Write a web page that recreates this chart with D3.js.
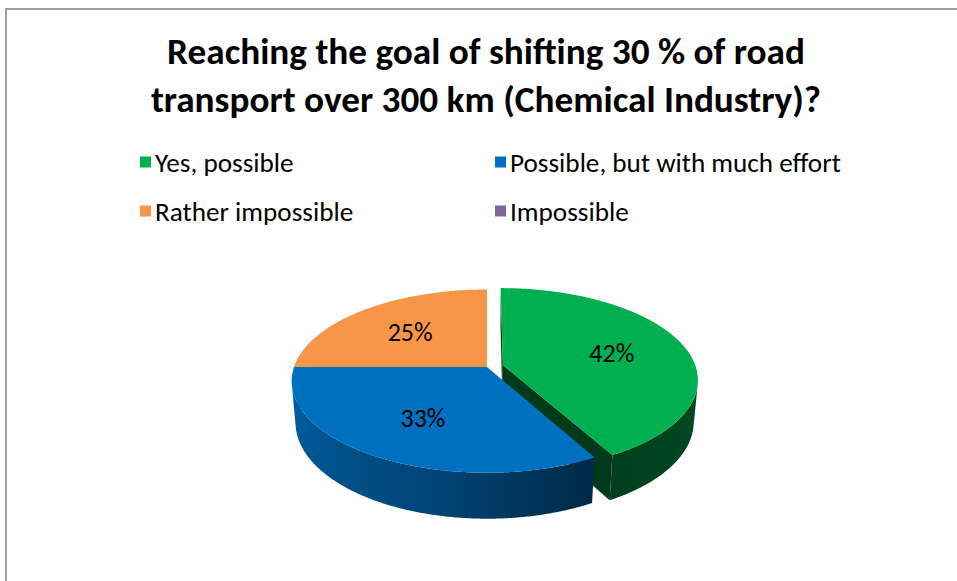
<!DOCTYPE html>
<html>
<head>
<meta charset="utf-8">
<script src="https://cdn.jsdelivr.net/npm/d3@7"></script>
<style>
  html, body { margin: 0; padding: 0; background: #fff; }
  svg { display: block; font-family: Calibri, Carlito, Lato, sans-serif; }
</style>
</head>
<body>
<div id="chart"></div>
<script>
"use strict";

/*** Data */
const titleLines = ["Reaching the goal of shifting 30 % of road",
                    "transport over 300 km (Chemical Industry)?"];
const categories = ["Yes, possible", "Possible, but with much effort", "Rather impossible", "Impossible"];
const values = [42, 33, 25, 0];
const colors = ["#00B050", "#0070C0", "#F79646", "#8064A2"];
const explodeBy = [0.085, 0, 0, 0];   // fraction of radius the slice is pulled out

/*** Sizes */
const w = 957;
const h = 581;

const svg = d3.select("#chart")
    .append("svg")
    .attr("width", w)
    .attr("height", h);

const defs = svg.append("defs");

/* chart frame, runs off the right and bottom edges */
svg.append("rect")
    .attr("x", 6).attr("y", 9)
    .attr("width", w + 20).attr("height", h + 20)
    .attr("fill", "#fff")
    .attr("stroke", "#898989")
    .attr("stroke-width", 1.6);

/* fit a text's font-size so that it is `target` px wide */
const fitSize = (sel, base, target) => base * target / sel.node().getComputedTextLength();

/*** Title */
const title = svg.append("g").attr("text-anchor", "middle").attr("font-weight", "bold").attr("fill", "#000");
const titleText = title.selectAll("text")
    .data(titleLines)
    .enter()
    .append("text")
    .attr("x", 486)
    .attr("y", (d, i) => 64 + i * 48)
    .attr("font-size", 36)
    .text(d => d);
titleText.attr("font-size", fitSize(titleText.filter((d, i) => i === 0), 36, 638));

/*** Legend */
const legendCols = [140, 495];
const legendRows = [162, 211];
const legend = svg.append("g").attr("id", "legend");
const legendItems = legend.selectAll("g")
    .data(categories)
    .enter()
    .append("g")
    .attr("transform", (d, i) => "translate(" + legendCols[i % 2] + "," + legendRows[Math.floor(i / 2)] + ")");
legendItems.append("rect")
    .attr("x", 0).attr("y", -5.5)
    .attr("width", 11).attr("height", 11)
    .attr("fill", (d, i) => colors[i]);
const legendText = legendItems.append("text")
    .attr("x", 15)
    .attr("dy", "0.36em")
    .attr("font-size", 20)
    .attr("fill", "#000")
    .text(d => d);
legendText.attr("font-size", fitSize(legendText.filter((d, i) => i === 1), 20, 331));

/*** 3D pie */
/* perspective projection of a tilted disc */
const cx = 487, cy = 367, k = 193;
const tilt = 27.6 * Math.PI / 180;
const sinA = Math.sin(tilt), cosA = Math.cos(tilt);
const dist = 5.75;        // camera distance in radius units
const thick = 0.245;      // slab thickness in radius units
const camera = [0, dist * sinA, dist * cosA];

const proj = (X, Y, Z) => {
    const v = Z * sinA - Y * cosA;
    const d = Z * cosA + Y * sinA;
    const s = dist / (dist - d);
    return [cx + k * X * s, cy + k * v * s];
};
// point on rim / inside disc, angle clockwise from 12 o'clock
const pt = (a, r, y, off) => [off[0] + r * Math.sin(a), y, off[1] - r * Math.cos(a)];
const visible = (p, n) => (camera[0] - p[0]) * n[0] + (camera[1] - p[1]) * n[1] + (camera[2] - p[2]) * n[2] > 0;
const toPath = pts => "M" + pts.map(p => proj(...p).map(v => v.toFixed(2)).join(",")).join("L") + "Z";

const shade = d3.scaleLinear()
    .domain([100, 151, 195, 265])
    .range([0.43, 0.36, 0.62, 0.88])
    .clamp(true);
const dim = (c, f) => { const o = d3.rgb(c); return d3.rgb(o.r * f, o.g * f, o.b * f).formatHex(); };

const pie = d3.pie().sort(null).value(d => d);
const arcs = pie(values).map((d, i) => {
    const mid = (d.startAngle + d.endAngle) / 2;
    const e = explodeBy[i];
    return Object.assign(d, { i: i, mid: mid, off: [e * Math.sin(mid), -e * Math.cos(mid)] });
});

const pieG = svg.append("g");
const step = Math.PI / 360;

arcs.filter(d => d.value > 0)
    .sort((a, b) => (a.off[1] - Math.cos(a.mid)) - (b.off[1] - Math.cos(b.mid)))
    .forEach(d => {
        const g = pieG.append("g");
        const a0 = d.startAngle, a1 = d.endAngle;
        const n = Math.max(2, Math.ceil((a1 - a0) / step));
        const angles = d3.range(n + 1).map(j => a0 + (a1 - a0) * j / n);

        /* radial faces */
        [[a0, a0 - Math.PI / 2], [a1, a1 + Math.PI / 2]].forEach(([a, na]) => {
            const nrm = [Math.sin(na), 0, -Math.cos(na)];
            const c0 = pt(0, 0, 0, d.off);
            if (!visible(pt(a, 0.5, 0, d.off), nrm)) return;
            g.append("path")
                .attr("d", toPath([c0, pt(a, 1, 0, d.off), pt(a, 1, -thick, d.off), pt(0, 0, -thick, d.off)]))
                .attr("fill", dim(colors[d.i], 0.33));
        });

        /* outer wall, only the part facing the camera */
        const vis = angles.filter(a => visible(pt(a, 1, 0, d.off), [Math.sin(a), 0, -Math.cos(a)]));
        if (vis.length > 1) {
            const top = vis.map(a => pt(a, 1, 0, d.off));
            const bot = vis.map(a => pt(a, 1, -thick, d.off)).reverse();
            const xs = vis.map(a => proj(...pt(a, 1, 0, d.off))[0]);
            const x1 = d3.min(xs), x2 = d3.max(xs);
            const gid = "wall" + d.i;
            defs.append("linearGradient")
                .attr("id", gid)
                .attr("gradientUnits", "userSpaceOnUse")
                .attr("x1", x1).attr("x2", x2).attr("y1", 0).attr("y2", 0)
                .selectAll("stop")
                .data(vis.map((a, j) => ({ o: (xs[j] - x1) / (x2 - x1 || 1), c: dim(colors[d.i], shade(a * 180 / Math.PI)) }))
                         .sort((p, q) => p.o - q.o))
                .enter()
                .append("stop")
                .attr("offset", s => s.o)
                .attr("stop-color", s => s.c);
            g.append("path")
                .attr("d", toPath(top.concat(bot)))
                .attr("fill", "url(#" + gid + ")");
        }

        /* top face */
        g.append("path")
            .attr("d", toPath([pt(0, 0, 0, d.off)].concat(angles.map(a => pt(a, 1, 0, d.off)))))
            .attr("fill", colors[d.i]);
    });

/*** Data labels */
const labelG = svg.append("g").attr("text-anchor", "middle").attr("fill", "#000");
const labelText = labelG.selectAll("text")
    .data(arcs.filter(d => d.value > 0))
    .enter()
    .append("text")
    .attr("x", d => proj(...pt(d.mid, 0.6, 0, d.off))[0])
    .attr("y", d => proj(...pt(d.mid, 0.6, 0, d.off))[1])
    .attr("dy", "0.36em")
    .attr("font-size", 20)
    .text(d => d.value + "%");
labelText.attr("font-size", fitSize(labelText.filter((d, i) => i === 0), 20, 45));
</script>
</body>
</html>
